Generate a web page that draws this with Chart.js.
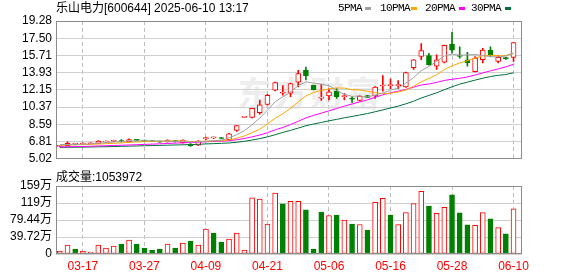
<!DOCTYPE html>
<html lang="zh-CN">
<head>
<meta charset="UTF-8">
<title>乐山电力 K线</title>
<script src="https://cdn.jsdelivr.net/npm/chart.js"></script>
<style>
  body { margin: 0; width: 578px; height: 276px; background: #fff; position: relative; overflow: hidden; }
  .box { position: absolute; left: 0; width: 578px; }
  .txt { position: absolute; white-space: nowrap; font: 12px/15px "Liberation Sans", "Noto Sans CJK SC", sans-serif; color: #000; }
  .lg { position: absolute; white-space: nowrap; font: 11px/15px "Liberation Mono", monospace; letter-spacing: -0.6px; color: #000; top: 1px; }
  .sw { position: absolute; top: 7px; width: 6px; height: 3px; }
  #mark { position: absolute; left: 238px; top: 72px; font: bold 34px/40px "Noto Sans CJK SC", sans-serif; color: #ededed; letter-spacing: 2px; }
</style>
</head>
<body>
<div id="mark">东方财富</div>
<div class="box" style="top:0;height:170px"><canvas id="priceChart"></canvas></div>
<div class="box" style="top:170px;height:106px"><canvas id="volChart"></canvas></div>

<div class="txt" style="left:56px;top:1px">乐山电力[600644] 2025-06-10 13:17</div>
<div class="lg" style="left:338px">5PMA</div><div class="sw" style="left:365px;background:#a0a0a0"></div>
<div class="lg" style="left:380px">10PMA</div><div class="sw" style="left:411px;background:#ffa500"></div>
<div class="lg" style="left:425px">20PMA</div><div class="sw" style="left:459px;background:#ff00ff"></div>
<div class="lg" style="left:471px">30PMA</div><div class="sw" style="left:505px;background:#00703c"></div>
<div class="txt" style="left:56px;top:170px">成交量:1053972</div>

<script>
// trading days shown on the chart
const dates = ['03-12','03-13','03-14','03-17','03-18','03-19','03-20','03-21','03-24','03-25',
  '03-26','03-27','03-28','03-31','04-01','04-02','04-03','04-07','04-08','04-09',
  '04-10','04-11','04-14','04-15','04-16','04-17','04-18','04-21','04-22','04-23',
  '04-24','04-25','04-28','04-29','04-30','05-06','05-07','05-08','05-09','05-12',
  '05-13','05-14','05-15','05-16','05-19','05-20','05-21','05-22','05-23','05-26',
  '05-27','05-28','05-29','05-30','06-03','06-04','06-05','06-06','06-09','06-10'];

const opens = [6.30,6.38,6.55,6.55,6.58,6.62,6.75,6.84,6.90,6.80,
  6.98,6.92,6.86,6.82,6.76,6.90,6.70,6.55,6.42,7.10,
  7.18,7.18,7.00,7.96,9.31,9.31,9.80,10.65,12.12,11.80,
  11.80,12.95,14.17,12.62,11.30,11.52,12.02,11.45,11.22,11.05,
  11.55,11.52,12.55,12.60,12.60,12.45,14.44,15.61,15.71,14.61,
  15.01,16.87,15.65,15.27,14.04,15.27,16.27,15.11,15.45,15.51];
const highs = [6.42,6.78,6.62,6.68,6.66,6.90,6.88,6.95,7.00,7.08,
  7.02,6.95,6.90,6.85,6.98,6.92,6.98,6.60,6.90,7.28,
  7.26,7.22,7.65,8.46,9.31,10.24,11.10,11.70,12.95,12.60,
  12.85,14.17,14.51,12.65,12.72,12.28,12.28,11.78,11.45,11.55,
  11.60,12.50,13.62,13.28,13.12,14.00,15.30,16.94,15.94,15.77,
  16.80,18.10,16.61,16.04,15.61,16.44,16.61,15.71,15.55,17.04];
const lows = [6.28,6.36,6.45,6.52,6.55,6.60,6.70,6.80,6.75,6.78,
  6.90,6.84,6.78,6.72,6.74,6.75,6.64,6.30,6.40,7.00,
  7.10,7.08,6.95,7.86,9.31,9.25,9.65,10.60,12.05,11.60,
  11.45,12.45,13.18,12.15,11.05,11.12,11.28,11.12,10.86,11.00,
  11.35,11.28,12.02,12.28,12.28,12.40,14.28,15.27,14.70,14.28,
  14.95,15.94,15.44,14.61,14.00,14.94,15.61,14.94,15.30,15.11];
const closes = [6.38,6.62,6.55,6.62,6.63,6.85,6.82,6.90,6.78,7.00,
  6.92,6.86,6.80,6.74,6.95,6.80,6.95,6.34,6.85,7.20,
  7.18,7.12,7.60,8.46,9.31,10.24,10.60,11.60,12.90,11.80,
  12.80,13.85,13.62,12.18,11.30,11.95,11.45,11.55,11.18,11.52,
  11.38,12.45,12.62,12.60,12.65,13.95,15.27,16.21,14.77,15.27,
  16.77,16.27,15.61,14.94,15.44,16.27,15.71,15.51,15.38,17.04];

// volume, in 万
const volumes = [7,21,11.7,7,4.7,21,14,18.7,23.4,32.7,
  23.4,14,9.3,11.7,23.4,14,25.7,30.4,21,58.4,
  49,28,35,49,9.3,131,128.5,70,142.6,117,
  123,123,103,11.7,98,90,91,79,70,69,
  56,121,130,91,69,97,118,146.5,112,95,
  109,138,96,68,67,97,82,62,47,105.4];

const ma5 = [6.48,6.50,6.51,6.53,6.56,6.65,6.69,6.76,6.80,6.87,
  6.88,6.89,6.87,6.86,6.85,6.83,6.85,6.76,6.78,6.83,
  6.90,6.94,7.19,7.51,7.93,8.55,9.24,10.04,10.93,11.43,
  11.94,12.59,12.99,12.85,12.75,12.58,12.10,11.69,11.49,11.53,
  11.42,11.62,11.83,12.11,12.34,12.85,13.42,14.14,14.57,15.09,
  15.66,15.86,15.74,15.77,15.81,15.71,15.59,15.57,15.66,15.98];
const ma10 = [6.44,6.46,6.47,6.49,6.51,6.55,6.58,6.62,6.66,6.72,
  6.77,6.79,6.82,6.83,6.86,6.86,6.87,6.81,6.82,6.84,
  6.87,6.89,6.97,7.15,7.38,7.73,8.09,8.62,9.22,9.68,
  10.24,10.92,11.52,11.89,12.09,12.26,12.35,12.34,12.17,12.14,
  12.00,11.86,11.76,11.80,11.94,12.14,12.52,12.98,13.34,13.72,
  14.26,14.64,14.94,15.17,15.45,15.68,15.73,15.66,15.72,15.89];
const ma20 = [6.25,6.27,6.28,6.30,6.32,6.35,6.37,6.40,6.42,6.45,
  6.48,6.51,6.54,6.57,6.61,6.64,6.68,6.70,6.74,6.78,
  6.82,6.84,6.90,6.99,7.12,7.29,7.48,7.72,8.02,8.26,
  8.56,8.90,9.25,9.52,9.74,9.99,10.22,10.48,10.69,10.91,
  11.12,11.39,11.64,11.85,12.01,12.20,12.43,12.66,12.76,12.93,
  13.13,13.25,13.35,13.49,13.69,13.91,14.12,14.32,14.53,14.81];
const ma30 = [6.20,6.21,6.22,6.23,6.24,6.26,6.27,6.29,6.31,6.33,
  6.35,6.37,6.39,6.41,6.43,6.45,6.47,6.49,6.52,6.56,
  6.59,6.62,6.66,6.73,6.83,6.96,7.11,7.29,7.51,7.75,
  7.96,8.20,8.44,8.62,8.78,8.95,9.10,9.26,9.40,9.55,
  9.70,9.89,10.08,10.28,10.47,10.71,10.98,11.31,11.58,11.85,
  12.17,12.47,12.74,12.95,13.16,13.36,13.53,13.66,13.74,13.92];

const priceTicks = ['5.02','6.81','8.59','10.37','12.15','13.93','15.71','17.50','19.28'];
const volTicks = ['0','39.72万','79.44万','119万','159万'];
const dateTickIdx = [3, 11, 19, 27, 35, 43, 51, 59];

const priceMin = 5.02, priceMax = 19.28, volMax = 158.88;
const RED = '#ff0000', GREEN = '#008000';

// up/down colouring: doji takes the direction of the previous close
const up = closes.map((c, i) => c > opens[i] || (c === opens[i] && (i === 0 || c >= closes[i - 1])));
const bodyRed = closes.map((c, i) => c >= opens[i]);

Chart.defaults.font.family = '"Liberation Sans", "Noto Sans CJK SC", sans-serif';
Chart.defaults.font.size = 12;
Chart.defaults.color = '#000';

const framePlugin = {
  id: 'frame',
  afterDraw(chart) {
    const { ctx, chartArea: a } = chart;
    ctx.save();
    ctx.strokeStyle = '#8c8c8c';
    ctx.lineWidth = 1;
    const l = Math.round(a.left) + 0.5, t = Math.round(a.top) + 0.5;
    ctx.strokeRect(l, t, Math.round(a.right) - Math.round(a.left) - 1, Math.round(a.bottom) - Math.round(a.top) - 1);
    ctx.restore();
  }
};

function xAxis(showLabels, height) {
  return {
    type: 'linear', min: -0.5, max: 60.1, offset: false,
    afterBuildTicks: s => { s.ticks = dateTickIdx.map(v => ({ value: v })); },
    afterFit: s => { s.height = height; },
    grid: { color: '#bdbdbd', drawTicks: false, offset: false },
    border: { display: false, dash: [4, 3] },
    ticks: {
      display: showLabels, color: RED, padding: 5, maxRotation: 0, autoSkip: false,
      callback: (v, i) => dates[dateTickIdx[i]]
    }
  };
}

function yAxis(min, max, labels) {
  const step = (max - min) / (labels.length - 1);
  return {
    type: 'linear', min: min, max: max,
    afterBuildTicks: s => { s.ticks = labels.map((_, k) => ({ value: min + k * step })); },
    afterFit: s => { s.width = 56; },
    grid: { color: '#d0d0d0', drawTicks: false },
    border: { display: false },
    ticks: { padding: 4, color: '#000', autoSkip: false, callback: (v, i) => labels[i] }
  };
}

const maLine = (label, values, color) => ({
  type: 'line', label: label,
  data: values.map((v, i) => ({ x: i, y: v })),
  borderColor: color, borderWidth: 1, pointRadius: 0, tension: 0, order: 0
});

new Chart(document.getElementById('priceChart'), {
  type: 'bar',
  data: {
    datasets: [
      maLine('5PMA', ma5, '#a0a0a0'),
      maLine('10PMA', ma10, '#ffa500'),
      maLine('20PMA', ma20, '#ff00ff'),
      maLine('30PMA', ma30, '#00703c'),
      {
        label: 'body', order: 1, grouped: false,
        data: opens.map((o, i) => ({ x: i, y: [o, closes[i]] })),
        backgroundColor: bodyRed.map(r => r ? '#ffffff' : GREEN),
        borderColor: bodyRed.map(r => r ? RED : GREEN),
        borderWidth: 1, borderSkipped: false, barThickness: 5, minBarLength: 1
      },
      {
        label: 'wick', order: 2, grouped: false,
        data: lows.map((l, i) => ({ x: i, y: [l, highs[i]] })),
        backgroundColor: bodyRed.map(r => r ? RED : GREEN),
        borderWidth: 0, barThickness: 1
      }
    ]
  },
  options: {
    responsive: true, maintainAspectRatio: false, animation: false, events: [],
    layout: { padding: { left: 0, right: 56, top: 21, bottom: 5 } },
    plugins: { legend: { display: false }, tooltip: { enabled: false } },
    scales: { x: xAxis(false, 0), y: yAxis(priceMin, priceMax, priceTicks) }
  },
  plugins: [framePlugin]
});

new Chart(document.getElementById('volChart'), {
  type: 'bar',
  data: {
    datasets: [{
      label: '成交量', grouped: false,
      data: volumes.map((v, i) => ({ x: i, y: v })),
      backgroundColor: up.map(u => u ? '#ffffff' : GREEN),
      borderColor: up.map(u => u ? RED : GREEN),
      borderWidth: 1, borderSkipped: false, barThickness: 5
    }]
  },
  options: {
    responsive: true, maintainAspectRatio: false, animation: false, events: [],
    layout: { padding: { left: 0, right: 56, top: 16, bottom: 0 } },
    plugins: { legend: { display: false }, tooltip: { enabled: false } },
    scales: { x: xAxis(true, 22), y: yAxis(0, volMax, volTicks) }
  },
  plugins: [framePlugin]
});
</script>
</body>
</html>
